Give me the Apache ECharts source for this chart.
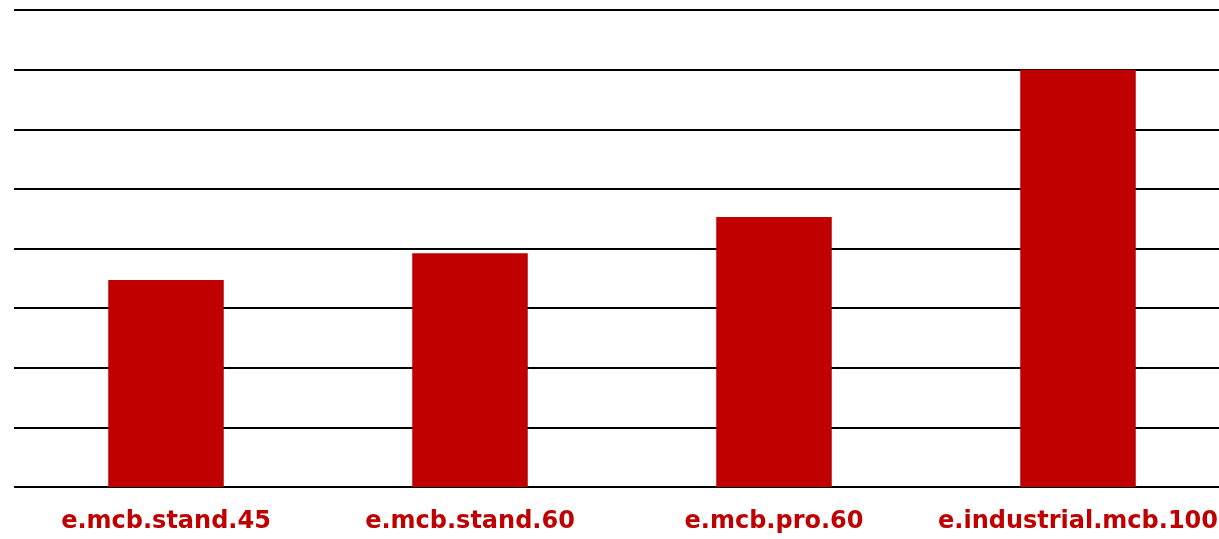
<!DOCTYPE html>
<html>
<head>
<meta charset="utf-8">
<script src="https://cdn.jsdelivr.net/npm/echarts@6/dist/echarts.min.js"></script>
<style>
  html, body { margin: 0; padding: 0; background: #ffffff; overflow: hidden; }
  /* plot runs slightly past the right edge of the window */
  #chart { width: 1230px; height: 539px; }
</style>
</head>
<body>
<div id="chart"></div>
<script>
// Product models along the x axis
const models = ['e.mcb.stand.45', 'e.mcb.stand.60', 'e.mcb.pro.60', 'e.industrial.mcb.100'];
// Bar heights per model
const values = [3.47, 3.92, 4.53, 7.0];
// Value axis range (labels hidden; only the grid lines are drawn)
const yMin = 0;
const yMax = 8;
const yStep = 1;

const red = '#C00000';

const chart = echarts.init(document.getElementById('chart'), null, { renderer: 'canvas' });

chart.setOption({
  animation: false,
  backgroundColor: '#ffffff',
  grid: { left: 14, top: 10, right: 0, bottom: 52, containLabel: false },
  xAxis: {
    type: 'category',
    data: models,
    axisLine: { show: false },
    axisTick: { show: false },
    axisLabel: {
      margin: 23,
      color: red,
      fontFamily: 'DejaVu Sans',
      fontWeight: 'bold',
      fontSize: 24,
      interval: 0
    }
  },
  yAxis: {
    type: 'value',
    min: yMin,
    max: yMax,
    interval: yStep,
    axisLine: { show: false },
    axisTick: { show: false },
    axisLabel: { show: false },
    splitLine: { show: true, lineStyle: { color: '#000000', width: 2 } }
  },
  series: [{
    type: 'bar',
    data: values,
    barWidth: '38%',
    itemStyle: { color: red },
    z: 1
  }]
});
</script>
</body>
</html>
